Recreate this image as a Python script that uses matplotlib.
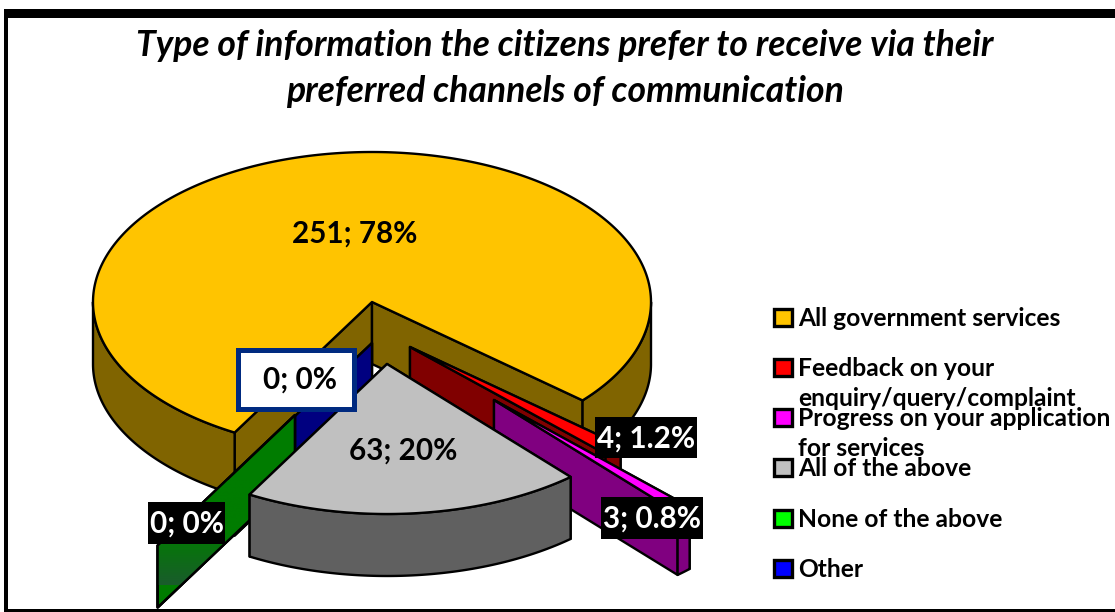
import numpy as np
import matplotlib
matplotlib.use("Agg")
import matplotlib.pyplot as plt
from matplotlib.colors import LinearSegmentedColormap
from matplotlib.patches import Polygon, Rectangle

plt.rcParams['font.family'] = ['Lato', 'DejaVu Sans']

# data
title = "Type of information the citizens prefer to receive via their\npreferred channels of communication"
categories = ["All government services",
              "Feedback on your\nenquiry/query/complaint",
              "Progress on your application\nfor services",
              "All of the above",
              "None of the above",
              "Other"]
values = [251, 4, 3, 63, 0, 0]
percent_labels = ["78%", "1.2%", "0.8%", "20%", "0%", "0%"]

# look of the slices
top_colors = ["#FFC400", "#FF0000", "#FF00FF", "#C0C0C0", "#00FF00", "#0000FF"]
wall_colors = ["#806400", "#800000", "#800080", "#606060", "#007C00", "#000080"]
offsets = [(0, 0), (38, 45), (122, 98), (15, 62), (-77, 113), (0, 41)]

# the pie is a flattened disc, axes units are pixels
CX, CY = 372, 302
RX, RY = 279, 150
DEPTH = 62
START = 209.5
LW = 1.7


def rim(theta, ox, oy, dz=0):
    t = np.radians(theta)
    return np.column_stack([CX + ox + RX * np.sin(t), CY + oy + dz - RY * np.cos(t)])


def poly(ax, pts, color, z):
    ax.add_patch(Polygon(pts, closed=True, facecolor=color, edgecolor="black",
                         linewidth=LW, joinstyle="round", zorder=z))


def draw_slice(ax, t1, t2, ox, oy, top, wall, z):
    apex = np.array([[CX + ox, CY + oy]])
    # cut faces
    for t in (t1, t2):
        a = rim([t], ox, oy)
        face = np.vstack([apex, a, a + [0, DEPTH], apex + [0, DEPTH]])
        poly(ax, face, wall, z)
    # outer wall, only the front half of the rim can be seen
    for lo, hi in ((90, 270), (450, 630)):
        a, b = max(t1, lo), min(t2, hi)
        if a < b:
            th = np.linspace(a, b, 120)
            poly(ax, np.vstack([rim(th, ox, oy), rim(th[::-1], ox, oy, DEPTH)]), wall, z)
    if t2 > t1:
        th = np.linspace(t1, t2, 300)
        poly(ax, np.vstack([apex, rim(th, ox, oy)]), top, z)


fig = plt.figure(figsize=(11.15, 6.12), dpi=100)
ax = fig.add_axes([0, 0, 1, 1])
ax.set_xlim(0, 1115)
ax.set_ylim(612, 0)
ax.axis("off")

# black frame, open on the right
ax.add_patch(Rectangle((4, 9), 1111, 8.5, facecolor="black", edgecolor="none"))
ax.add_patch(Rectangle((4, 9), 3.5, 603, facecolor="black", edgecolor="none"))
ax.add_patch(Rectangle((4, 608.5), 1111, 3.5, facecolor="black", edgecolor="none"))

angles = START + np.concatenate([[0], np.cumsum(values)]) / sum(values) * 360

# paint back to front, the grey slice ends up above the green face
order = [0, 1, 2, 5, 4, 3]
for z, i in enumerate(order):
    draw_slice(ax, angles[i], angles[i + 1], offsets[i][0], offsets[i][1],
               top_colors[i], wall_colors[i], 3 + z)

# the green face fades towards its lower end
gi = 4
g_apex = np.array([[CX + offsets[gi][0], CY + offsets[gi][1]]])
g_out = rim([angles[gi]], *offsets[gi])
g_face = np.vstack([g_apex, g_out, g_out + [0, DEPTH], g_apex + [0, DEPTH]])
fade = LinearSegmentedColormap.from_list("fade", ["#007C00", "#007C00", "#1A5C2C"])
im = ax.imshow(np.linspace(0, 1, 128).reshape(-1, 1), cmap=fade, aspect="auto",
               extent=(g_face[:, 0].min(), g_face[:, 0].max(), 585, 480),
               zorder=7.5)
im.set_clip_path(Polygon(g_face, closed=True, transform=ax.transData))
ax.set_xlim(0, 1115)
ax.set_ylim(612, 0)
ax.add_patch(Polygon(g_face, closed=True, facecolor="none", edgecolor="black",
                     linewidth=LW, zorder=7.6))

ax.text(565, 68.5, title, ha="center", va="center", fontsize=25.6, fontweight="bold",
        fontstyle="italic", linespacing=1.5, zorder=20)


def data_label(i):
    return f"{values[i]}; {percent_labels[i]}"


LABEL_FS = 21.3
ax.text(355, 233.5, data_label(0), ha="center", va="center", fontsize=LABEL_FS,
        fontweight="bold", zorder=20)
ax.text(403, 451, data_label(3), ha="center", va="center", fontsize=LABEL_FS,
        fontweight="bold", zorder=20)

# black boxed labels
for i, (x0, y0, x1, y1) in ((1, (595, 417, 697, 458)),
                            (2, (601, 497, 703, 539)),
                            (4, (148, 502, 225, 544))):
    ax.add_patch(Rectangle((x0, y0), x1 - x0, y1 - y0, facecolor="black",
                           edgecolor="none", zorder=18))
    ax.text((x0 + x1) / 2, (y0 + y1) / 2 + 1, data_label(i), color="white", ha="center",
            va="center", fontsize=LABEL_FS, fontweight="bold", zorder=20)

# white label with blue border
ax.add_patch(Rectangle((238, 349.5), 116, 59, facecolor="white", edgecolor="#002A80",
                       linewidth=3.6, zorder=18))
ax.text(300, 380, data_label(5), ha="center", va="center", fontsize=LABEL_FS,
        fontweight="bold", zorder=20)

# legend
legend_y = [317, 367, 417, 467, 518, 568]
for name, color, y in zip(categories, top_colors, legend_y):
    ax.add_patch(Rectangle((774, y - 8.5), 17.5, 17, facecolor=color, edgecolor="black",
                           linewidth=2.4, zorder=10))
    for k, line in enumerate(name.split("\n")):
        ax.text(798, y + 1.5 + k * 30, line, ha="left", va="center", fontsize=17.7,
                fontweight="bold", zorder=10 + k)

fig.savefig("out.png", dpi=100, facecolor="white")
